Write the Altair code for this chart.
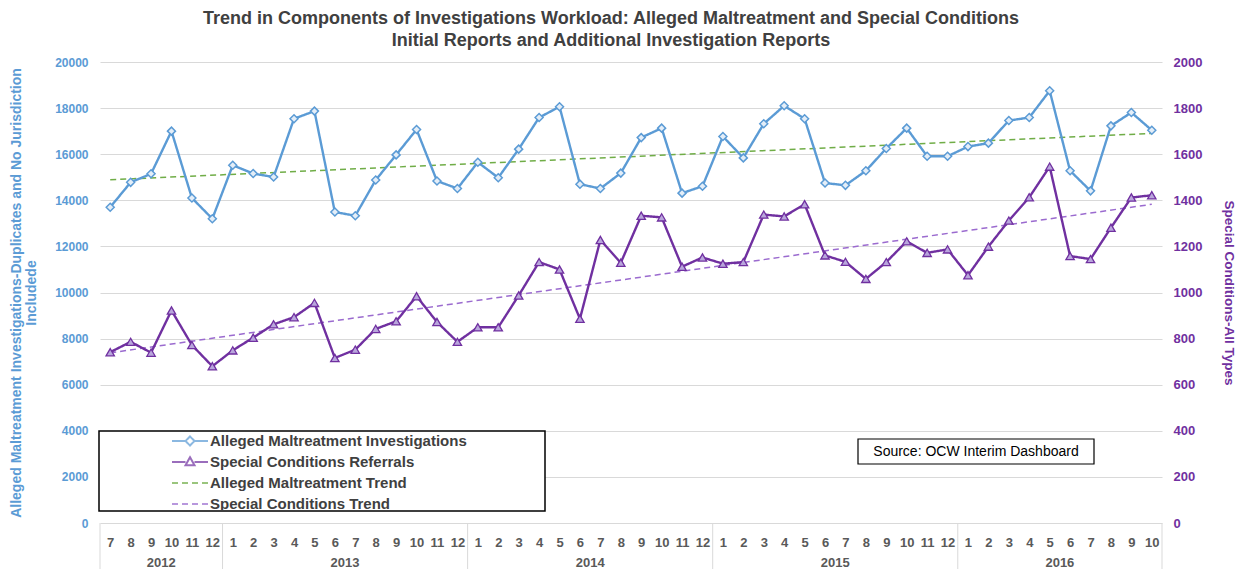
import altair as alt
import pandas as pd

FONT = "Liberation Sans"

title_lines = [
    "Trend in Components of Investigations Workload: Alleged Maltreatment and Special Conditions",
    "Initial Reports and Additional Investigation Reports",
]
left_title = ["Alleged Maltreatment Investigations-Duplicates and No Jurisdiction", "Includede"]
right_title = "Special Conditions-All Types"
source_note = ["Source: OCW Interim Dashboard"]

years = [2012] * 6 + [2013] * 12 + [2014] * 12 + [2015] * 12 + [2016] * 10
months = [7, 8, 9, 10, 11, 12,
          1, 2, 3, 4, 5, 6, 7, 8, 9, 10, 11, 12,
          1, 2, 3, 4, 5, 6, 7, 8, 9, 10, 11, 12,
          1, 2, 3, 4, 5, 6, 7, 8, 9, 10, 11, 12,
          1, 2, 3, 4, 5, 6, 7, 8, 9, 10]

alleged = [13700, 14780, 15150, 17000, 14100, 13200,
           15520, 15160, 15010, 17540, 17870, 13490, 13330, 14880, 15970, 17070, 14840, 14510,
           15650, 14980, 16220, 17590, 18060, 14700, 14510, 15180, 16720, 17130, 14310, 14610,
           16770, 15840, 17320, 18100, 17540, 14750, 14650, 15280, 16250, 17130, 15910, 15910,
           16330, 16480, 17460, 17590, 18750, 15280, 14410, 17230, 17810, 17040]

special = [741, 786, 739, 922, 772, 680,
           749, 804, 862, 893, 955, 716, 752, 842, 875, 984, 872, 786,
           849, 849, 987, 1132, 1100, 886, 1228, 1129, 1333, 1326, 1112, 1152,
           1125, 1132, 1338, 1330, 1383, 1161, 1133, 1059, 1132, 1222, 1172, 1187,
           1075, 1199, 1312, 1413, 1546, 1158, 1145, 1281, 1412, 1422]

series_names = ["Alleged Maltreatment Investigations", "Special Conditions Referrals",
                "Alleged Maltreatment Trend", "Special Conditions Trend"]
series_colors = ["#5B9BD5", "#7030A0", "#70AD47", "#9B6BCF"]
series_dash = [[1, 0], [1, 0], [6, 4], [6, 4]]
legend_shapes = [
    "M-6,0H-1.5M1.5,0H6M0,-1.5L1.5,0L0,1.5L-1.5,0Z",
    "M-6,0H-1.5M1.5,0H6M0,-1.6L1.5,1.1H-1.5Z",
    "M-6,0H6",
    "M-6,0H6",
]

W, H = 1062, 461
n = len(months)

df = pd.DataFrame({"idx": list(range(n)), "month": months, "year": years,
                   "alleged": alleged, "special": special})

# year boundaries (between categories)
bounds = [-0.5] + [i - 0.5 for i in range(1, n) if years[i] != years[i - 1]] + [n - 0.5]
bounds_df = pd.DataFrame({"b": bounds})
note_df = pd.DataFrame({"t": source_note})

label_expr = "[" + ",".join("'%d'" % m for m in months) + "][datum.value]"

x_scale = alt.Scale(domain=[-0.5, n - 0.5], nice=False, zero=False)
x_axis = alt.Axis(values=list(range(n)), labelExpr=label_expr, title=None, grid=False,
                  ticks=False, domain=False, labelFlush=False, labelOverlap=False,
                  labelFont=FONT, labelFontSize=13, labelFontWeight="bold",
                  labelColor="#595959", labelPadding=13)


def X(field):
    return alt.X(field, scale=x_scale, axis=x_axis)


left_scale = alt.Scale(domain=[0, 20000], nice=False, zero=True)
left_axis = alt.Axis(values=list(range(0, 20001, 2000)), format="d", title=left_title,
                     labelColor="#5B9BD5", labelFont=FONT, labelFontSize=12, labelFontWeight="bold",
                     ticks=False, domain=False, grid=True, gridColor="#D9D9D9", gridWidth=1,
                     labelPadding=12, titleColor="#5B9BD5", titleFont=FONT, titleFontSize=14,
                     titleFontWeight="bold", titlePadding=16, titleLineHeight=15)
right_scale = alt.Scale(domain=[0, 2000], nice=False, zero=True)
right_axis = alt.Axis(orient="right", values=list(range(0, 2001, 200)), format="d", title=right_title,
                      labelColor="#7030A0", labelFont=FONT, labelFontSize=13, labelFontWeight="bold",
                      ticks=False, domain=False, grid=False, labelPadding=11,
                      titleColor="#7030A0", titleFont=FONT, titleFontSize=13.5, titleFontWeight="bold",
                      titlePadding=20)

legend = alt.Legend(orient="none", legendX=71.5, legendY=372, title=None, padding=0,
                    labelFont=FONT, labelFontSize=15, labelFontWeight="bold", labelColor="#404040",
                    labelOffset=12.5, symbolOffset=11, symbolSize=36, symbolStrokeWidth=2,
                    symbolFillColor="white", clipHeight=14, rowPadding=6, labelLimit=400)
color_enc = alt.Color("series:N", scale=alt.Scale(domain=series_names, range=series_colors), legend=legend)
dash_enc = alt.StrokeDash("series:N", scale=alt.Scale(domain=series_names, range=series_dash), legend=legend)
shape_enc = alt.Shape("series:N", scale=alt.Scale(domain=series_names, range=legend_shapes), legend=legend)

# annotations
legend_box = alt.Chart(note_df).mark_rect(fill="white", stroke="black", strokeWidth=1.5).encode(
    x=alt.value(-1), x2=alt.value(445), y=alt.value(369), y2=alt.value(449))
note_box = alt.Chart(note_df).mark_rect(fill="white", stroke="black", strokeWidth=1.2).encode(
    x=alt.value(758), x2=alt.value(994), y=alt.value(377), y2=alt.value(402))
note_text = alt.Chart(note_df).mark_text(font=FONT, fontSize=14, color="black").encode(
    x=alt.value(876), y=alt.value(390), text="t:N")
year_rules = alt.Chart(bounds_df).mark_rule(color="#D9D9D9", strokeWidth=1).encode(
    x=X("b:Q"), y=alt.value(H), y2=alt.value(H + 60))
year_text = alt.Chart(df).transform_aggregate(c="mean(idx)", groupby=["year"]).mark_text(
    font=FONT, fontSize=13, fontWeight="bold", color="#595959").encode(
    x=X("c:Q"), y=alt.value(H + 40), text="year:N")

base = alt.Chart(df)

blue_line = base.transform_calculate(series="'%s'" % series_names[0]).mark_line(strokeWidth=2.4).encode(
    x=X("idx:Q"), y=alt.Y("alleged:Q", scale=left_scale, axis=left_axis), color=color_enc, strokeDash=dash_enc)
green_trend = base.transform_regression("idx", "alleged").transform_calculate(
    series="'%s'" % series_names[2]).mark_line(strokeWidth=1.5).encode(
    x=X("idx:Q"), y=alt.Y("alleged:Q", scale=left_scale, axis=left_axis), color=color_enc, strokeDash=dash_enc)
blue_pts = base.mark_point(shape="diamond", filled=True, fill="#E4EEF8", stroke="#5B9BD5",
                           strokeWidth=1.5, size=64, opacity=1).encode(
    x=X("idx:Q"), y=alt.Y("alleged:Q", scale=left_scale, axis=left_axis))
legend_layer = base.transform_filter("false").transform_calculate(
    series="'%s'" % series_names[0]).mark_point(filled=False, strokeWidth=2).encode(
    x=X("idx:Q"), y=alt.Y("alleged:Q", scale=left_scale, axis=left_axis),
    color=color_enc, shape=shape_enc, strokeDash=dash_enc)

purple_line = base.transform_calculate(series="'%s'" % series_names[1]).mark_line(strokeWidth=2.4).encode(
    x=X("idx:Q"), y=alt.Y("special:Q", scale=right_scale, axis=right_axis), color=color_enc, strokeDash=dash_enc)
purple_trend = base.transform_regression("idx", "special").transform_calculate(
    series="'%s'" % series_names[3]).mark_line(strokeWidth=1.5).encode(
    x=X("idx:Q"), y=alt.Y("special:Q", scale=right_scale, axis=right_axis), color=color_enc, strokeDash=dash_enc)
purple_pts = base.mark_point(shape="triangle-up", filled=True, fill="#B9A6DC", stroke="#7030A0",
                             strokeWidth=1.3, size=70, opacity=1).encode(
    x=X("idx:Q"), y=alt.Y("special:Q", scale=right_scale, axis=right_axis))

left = alt.layer(year_rules, year_text, legend_box, note_box, note_text,
                 green_trend, blue_line, blue_pts, legend_layer)
right = alt.layer(purple_trend, purple_line, purple_pts)

chart = alt.layer(left, right).resolve_scale(y="independent").properties(
    width=W, height=H,
    title=alt.TitleParams(text=title_lines, font=FONT, fontSize=18, fontWeight="bold", color="#404040",
                          anchor="middle", dx=-20, offset=6, lineHeight=22),
    padding={"left": 92, "top": 54, "right": 75, "bottom": 46},
    autosize=alt.AutoSizeParams(type="none"),
).configure_view(stroke=None)

chart.save("out.html", embed_options={"renderer": "svg", "actions": False})
